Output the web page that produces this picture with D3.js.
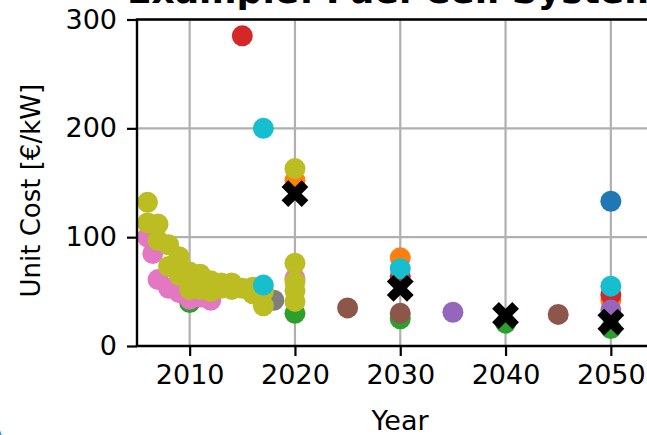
<!DOCTYPE html>
<html>
<head>
<meta charset="utf-8">
<script src="https://cdn.jsdelivr.net/npm/d3@7"></script>
<style>
  body { margin: 0; background: #fff; }
  svg { display: block; font-family: "DejaVu Sans", sans-serif; }
</style>
</head>
<body>
<svg id="chart" width="647" height="435"></svg>
<script>
// one array of [year, unit cost] per source, drawn in tab10 order
const blueSeries = [[2050, 133]];
const orangeSeries = [[2020, 152], [2030, 81], [2050, 42]];
const greenSeries = [[2010, 40], [2020, 30], [2030, 25], [2040, 21], [2050, 16]];
const redSeries = [[2015, 285], [2030, 64], [2050, 47]];
const purpleSeries = [[2035, 31], [2050, 33]];
const brownSeries = [[2025, 35], [2030, 30], [2045, 29]];
const pinkSeries = [[2006, 100], [2006.5, 85], [2007, 61], [2008, 53], [2009, 49], [2010, 43],
  [2011, 45], [2012, 42], [2020, 62]];
const graySeries = [[2018, 42]];
const oliveSeries = [[2006, 132], [2006, 113], [2007, 112], [2007, 97], [2008, 93], [2009, 82],
  [2008, 73], [2009, 65], [2010, 68], [2011, 66], [2010, 52], [2011, 52], [2012, 60], [2013, 58],
  [2014, 58], [2012, 50], [2013, 53], [2014, 52], [2015, 53], [2016, 54], [2016, 48], [2017, 50],
  [2017, 37], [2020, 163], [2020, 76], [2020, 59], [2020, 51], [2020, 41]];
const cyanSeries = [[2017, 200], [2017, 56], [2030, 71], [2050, 55]];
const meanPoints = [[2020, 140], [2030, 53], [2040, 28], [2050, 22]];

const allSeries = [blueSeries, orangeSeries, greenSeries, redSeries, purpleSeries,
  brownSeries, pinkSeries, graySeries, oliveSeries, cyanSeries];

const xTicks = [2010, 2020, 2030, 2040, 2050];
const yTicks = [0, 100, 200, 300];

const titleText = 'Example: Fuel Cell System';
const xLabel = 'Year';
const yLabel = 'Unit Cost [€/kW]';

const svg = d3.select('#chart');
const plotLeft = 137, plotTop = 19.5, plotBottom = 346;
const x = d3.scaleLinear().domain([2005, 2055]).range([plotLeft, plotLeft + 50 * 10.53]);
const y = d3.scaleLinear().domain([0, 300]).range([plotBottom, plotTop]);
const plotRight = x.range()[1];

svg.append('defs').append('clipPath').attr('id', 'plotClip')
  .append('rect')
  .attr('x', plotLeft).attr('y', plotTop)
  .attr('width', plotRight - plotLeft).attr('height', plotBottom - plotTop);

// grid
const grid = svg.append('g').attr('stroke', '#b0b0b0').attr('stroke-width', 2.2);
grid.selectAll('.vx').data(xTicks).enter().append('line')
  .attr('x1', d => x(d)).attr('x2', d => x(d))
  .attr('y1', plotTop).attr('y2', plotBottom);
grid.selectAll('.hy').data(yTicks).enter().append('line')
  .attr('x1', plotLeft).attr('x2', plotRight)
  .attr('y1', d => y(d)).attr('y2', d => y(d));

// points
const plot = svg.append('g').attr('clip-path', 'url(#plotClip)');
allSeries.forEach((series, i) => {
  plot.append('g').selectAll('circle')
    .data(series)
    .enter().append('circle')
    .attr('cx', d => x(d[0]))
    .attr('cy', d => y(d[1]))
    .attr('r', 10.5)
    .attr('fill', d3.schemeCategory10[i]);
});

const xMarker = d3.symbol().type(d3.symbolCross).size(450);
plot.append('g').selectAll('path')
  .data(meanPoints)
  .enter().append('path')
  .attr('d', xMarker)
  .attr('transform', d => `translate(${x(d[0])},${y(d[1])}) rotate(45)`)
  .attr('fill', '#000');

// axes
const xAxis = svg.append('g')
  .attr('transform', `translate(0,${plotBottom})`)
  .call(d3.axisBottom(x).tickValues(xTicks).tickFormat(d3.format('d')).tickSize(10).tickPadding(9));
const yAxis = svg.append('g')
  .attr('transform', `translate(${plotLeft},0)`)
  .call(d3.axisLeft(y).tickValues(yTicks).tickSize(10).tickPadding(10));

[xAxis, yAxis].forEach(ax => {
  ax.select('.domain').remove();
  ax.selectAll('.tick line').attr('stroke', '#000').attr('stroke-width', 2.2);
  ax.selectAll('.tick text')
    .attr('fill', '#000')
    .style('font-size', '27px')
    .style('font-family', '"DejaVu Sans", sans-serif');
});

// spines
const spines = svg.append('g').attr('stroke', '#000').attr('stroke-width', 2.4).attr('fill', 'none');
spines.append('line').attr('x1', plotLeft).attr('x2', plotLeft).attr('y1', plotTop).attr('y2', plotBottom);
spines.append('line').attr('x1', plotLeft - 1.2).attr('x2', plotRight).attr('y1', plotBottom).attr('y2', plotBottom);
spines.append('line').attr('x1', plotLeft - 1.2).attr('x2', plotRight).attr('y1', plotTop).attr('y2', plotTop);
spines.append('line').attr('x1', plotRight).attr('x2', plotRight).attr('y1', plotTop).attr('y2', plotBottom);

// labels
svg.append('text')
  .attr('x', 400)
  .attr('y', 430)
  .attr('text-anchor', 'middle')
  .style('font-size', '27px')
  .text(xLabel);

svg.append('text')
  .attr('transform', `translate(40,${(plotTop + plotBottom) / 2 + 8}) rotate(-90)`)
  .attr('text-anchor', 'middle')
  .style('font-size', '26px')
  .text(yLabel);

svg.append('text')
  .attr('x', 127)
  .attr('y', 3)
  .style('font-size', '36px')
  .style('font-weight', 'bold')
  .text(titleText);

// stray blue glyph clipped at the lower-left corner
svg.append('text')
  .attr('x', -6)
  .attr('y', 440)
  .attr('fill', '#1f77b4')
  .style('font-size', '14px')
  .text('A');
</script>
</body>
</html>
